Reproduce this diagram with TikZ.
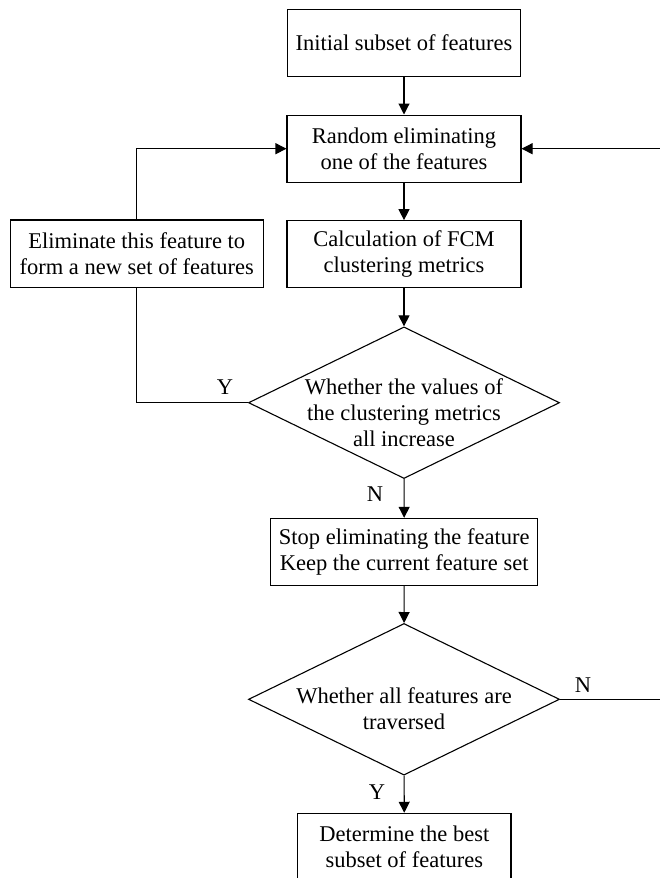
\documentclass[tikz,border=0pt]{standalone}
\usepackage{fontspec}
\setmainfont{Liberation Serif}
\usetikzlibrary{shapes.geometric,arrows.meta}
\begin{document}
\begin{tikzpicture}[x=1pt,y=-1pt,
 box/.style={draw,line width=1.1pt,inner sep=0pt,align=center,font=\fontsize{22.5}{26}\selectfont},
 dia/.style={draw,diamond,line width=1.1pt,inner sep=0pt,minimum width=311pt,minimum height=151.6pt},
 txt/.style={align=center,font=\fontsize{22.5}{26}\selectfont,inner sep=0pt},
 arr/.style={line width=1.1pt,-{Triangle[length=11pt,width=11pt]}},
 ln/.style={line width=1.1pt}]
\useasboundingbox (0,0) rectangle (659,878);
\node[box,minimum width=233.4pt,minimum height=67.4pt] (b1) at (404,43) {Initial subset of features};
\node[box,minimum width=234pt,minimum height=67.3pt] (b2) at (404,148.7) {Random eliminating\\one of the features};
\node[box,minimum width=234pt,minimum height=67pt] (b3) at (404,254.2) {Calculation of FCM\\clustering metrics};
\node[box,minimum width=253.3pt,minimum height=67.7pt] (bl) at (136.7,253.8) {Eliminate this feature to\\form a new set of features};
\node[dia] (d1) at (404,402.7) {};
\node[txt] (t1) at (404,413) {Whether the values of\\the clustering metrics\\all increase};
\node[box,minimum width=267pt,minimum height=66.7pt] (b4) at (404.2,551.7) {Stop eliminating the feature\\Keep the current feature set};
\node[dia] (d2) at (404,699.3) {};
\node[txt] (t2) at (404,709) {Whether all features are\\traversed};
\node[box,minimum width=213.3pt,minimum height=67pt] (b5) at (404.3,846.8) {Determine the best\\subset of features};
\coordinate (r1) at (663,699.3);
\coordinate (r2) at (663,148.7);
\draw[arr] (b1) -- (b2);
\draw[arr] (b2) -- (b3);
\draw[arr] (b3) -- (d1);
\draw[arr] (d1) -- (b4);
\draw[arr] (b4) -- (d2);
\draw[arr] (d2) -- (b5);
\draw[ln] (d1.west) -| (bl.south);
\draw[arr] (bl.north) |- (b2.west);
\draw[arr] (d2.east) -- (r1) -- (r2) -- (b2.east);
\node[txt] (ly1) at (225,387) {Y};
\node[txt] (ln1) at (375,494) {N};
\node[txt] (ln2) at (583,685) {N};
\node[txt] (ly2) at (377,792) {Y};
\end{tikzpicture}
\end{document}
